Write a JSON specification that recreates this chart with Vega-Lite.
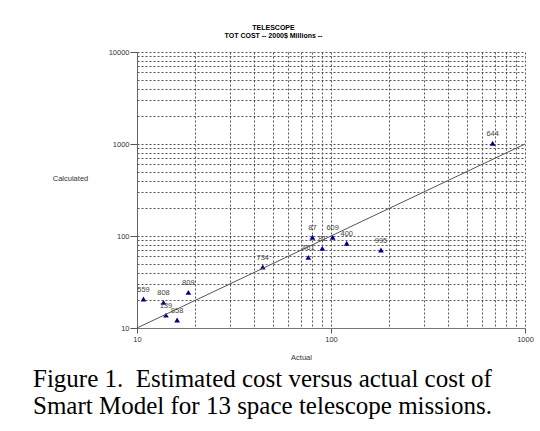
{
  "$schema": "https://vega.github.io/schema/vega-lite/v6.json",
  "width": 388,
  "height": 276,
  "autosize": {"type": "none"},
  "padding": {"left": 137, "top": 52, "right": 15, "bottom": 103},
  "background": "white",
  "config": {"view": {"stroke": null}},
  "title": {
    "text": ["Figure 1.\u00a0 Estimated cost versus actual cost of", "Smart Model for 13 space telescope missions."],
    "orient": "bottom",
    "anchor": "start",
    "frame": "group",
    "dx": -104,
    "offset": 6,
    "font": "Liberation Serif",
    "fontSize": 25,
    "fontWeight": "normal",
    "lineHeight": 27,
    "color": "#000000"
  },
  "datasets": {
    "missions": [
      {"mission": "559", "Actual": 10.8, "Calculated": 20.7},
      {"mission": "808", "Actual": 13.7, "Calculated": 19.0},
      {"mission": "809", "Actual": 18.4, "Calculated": 24.4},
      {"mission": "139", "Actual": 14.1, "Calculated": 13.8},
      {"mission": "858", "Actual": 16.1, "Calculated": 12.2},
      {"mission": "734", "Actual": 44.5, "Calculated": 46.0},
      {"mission": "87", "Actual": 80.2, "Calculated": 96.8},
      {"mission": "461", "Actual": 76.4, "Calculated": 58.6},
      {"mission": "81", "Actual": 90.2, "Calculated": 73.4},
      {"mission": "609", "Actual": 102, "Calculated": 96.8},
      {"mission": "400", "Actual": 120.5, "Calculated": 83.4},
      {"mission": "995", "Actual": 181, "Calculated": 70.5},
      {"mission": "644", "Actual": 681, "Calculated": 1019}
    ],
    "parity": [
      {"Actual": 10, "Calculated": 10},
      {"Actual": 1000, "Calculated": 1000}
    ]
  },
  "resolve": {"axis": {"x": "independent", "y": "independent"}},
  "layer": [
    {
      "data": {"name": "missions"},
      "mark": {"type": "point", "shape": "triangle-up", "filled": true, "color": "#00008B", "size": 32, "opacity": 1},
      "encoding": {
        "x": {
          "field": "Actual", "type": "quantitative",
          "scale": {"type": "log", "domain": [10, 1000], "nice": false},
          "axis": {
            "values": [10, 20, 30, 40, 50, 60, 70, 80, 90, 100, 200, 300, 400, 500, 600, 700, 800, 900, 1000],
            "labelExpr": "indexof([10,100,1000], datum.value) >= 0 ? '' + datum.value : ''",
            "labelOverlap": false,
            "labelFlush": false,
            "labelFont": "Liberation Sans",
            "labelFontSize": 7.5,
            "labelColor": "#333333",
            "labelPadding": 2,
            "grid": true,
            "gridDash": [2, 2],
            "gridColor": "#555555",
            "gridWidth": 1,
            "domainColor": "#777777",
            "domainWidth": 1,
            "tickColor": "#555555",
            "tickSize": 5,
            "tickOpacity": {"condition": {"test": "indexof([10,100,1000], datum.value) >= 0", "value": 1}, "value": 0},
            "title": "Actual",
            "titleFont": "Liberation Sans",
            "titleFontSize": 7.5,
            "titleFontWeight": "normal",
            "titleColor": "#333333",
            "titleX": 164,
            "titleY": 29,
            "titleAlign": "center",
            "titleBaseline": "middle"
          }
        },
        "y": {
          "field": "Calculated", "type": "quantitative",
          "scale": {"type": "log", "domain": [10, 10000], "nice": false},
          "axis": {
            "values": [10, 20, 30, 40, 50, 60, 70, 80, 90, 100, 200, 300, 400, 500, 600, 700, 800, 900, 1000, 2000, 3000, 4000, 5000, 6000, 7000, 8000, 9000, 10000],
            "labelExpr": "indexof([10,100,1000,10000], datum.value) >= 0 ? '' + datum.value : ''",
            "labelOverlap": false,
            "labelFlush": false,
            "labelFont": "Liberation Sans",
            "labelFontSize": 7.5,
            "labelColor": "#333333",
            "labelPadding": 1,
            "grid": true,
            "gridDash": [2, 2],
            "gridColor": "#555555",
            "gridWidth": 1,
            "domainColor": "#666666",
            "domainWidth": 1,
            "tickColor": "#555555",
            "tickSize": 7,
            "tickOpacity": {"condition": {"test": "indexof([10,100,1000,10000], datum.value) >= 0", "value": 1}, "value": 0},
            "title": "Calculated",
            "titleFont": "Liberation Sans",
            "titleFontSize": 7.5,
            "titleFontWeight": "normal",
            "titleColor": "#333333",
            "titleAngle": 0,
            "titleX": -67,
            "titleY": 126,
            "titleAlign": "center",
            "titleBaseline": "middle"
          }
        }
      }
    },
    {
      "data": {"name": "missions"},
      "mark": {"type": "text", "dy": -9, "font": "Liberation Sans", "fontSize": 7.5, "color": "#444444"},
      "encoding": {
        "x": {"field": "Actual", "type": "quantitative", "scale": {"type": "log", "domain": [10, 1000], "nice": false}, "axis": null},
        "y": {"field": "Calculated", "type": "quantitative", "scale": {"type": "log", "domain": [10, 10000], "nice": false}, "axis": null},
        "text": {"field": "mission", "type": "nominal"}
      }
    },
    {
      "data": {"name": "parity"},
      "mark": {"type": "line", "color": "#555555", "strokeWidth": 1},
      "encoding": {
        "x": {
          "field": "Actual", "type": "quantitative",
          "scale": {"type": "log", "domain": [10, 1000], "nice": false},
          "axis": {
            "orient": "top",
            "labels": false,
            "ticks": false,
            "domain": false,
            "grid": false,
            "title": ["TELESCOPE", "TOT COST -- 2000$ Millions --"],
            "titleFont": "Liberation Sans",
            "titleFontSize": 7,
            "titleFontWeight": "bold",
            "titleLineHeight": 8,
            "titleColor": "#000000",
            "titleX": 136,
            "titleY": -29,
            "titleAlign": "center",
            "titleBaseline": "top"
          }
        },
        "y": {"field": "Calculated", "type": "quantitative", "scale": {"type": "log", "domain": [10, 10000], "nice": false}, "axis": null}
      }
    }
  ]
}
